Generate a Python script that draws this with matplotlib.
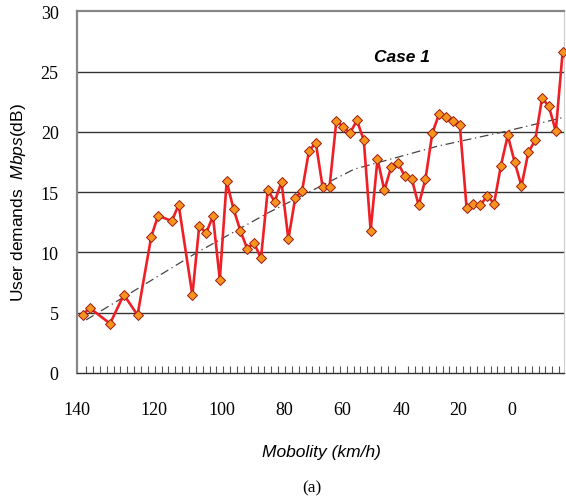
import numpy as np
from matplotlib import pyplot as plt

plt.rcParams["mathtext.fontset"] = "custom"
plt.rcParams["mathtext.it"] = "Liberation Sans:italic"
plt.rcParams["mathtext.rm"] = "Liberation Sans"

# slot index along the category axis (gaps = no sample)
slots = [0, 1, 4, 6, 8, 10, 11, 13, 14] + list(range(16, 71))
demand = [4.8, 5.4, 4.1, 6.5, 4.8, 11.3, 13.05, 12.6, 13.95,
          6.45, 12.2, 11.6, 13.0, 7.75, 15.9, 13.6, 11.8, 10.3, 10.8,
          9.5, 15.2, 14.2, 15.85, 11.1, 14.5, 15.1, 18.4, 19.1, 15.4,
          15.4, 20.9, 20.4, 19.9, 20.95, 19.3, 11.8, 17.75, 15.15, 17.1,
          17.4, 16.3, 16.1, 13.9, 16.1, 19.9, 21.5, 21.25, 20.9, 20.6,
          13.65, 14.0, 13.9, 14.7, 14.05, 17.2, 19.7, 17.5, 15.5, 18.3,
          19.3, 22.8, 22.1, 20.05, 26.6]
# trend line
trend_slots = [0.5, 9.2, 16.4, 27.1, 39.6, 51.7, 61.4, 70.2]
trend_vals = [4.4, 7.4, 9.9, 13.3, 16.9, 18.8, 20.0, 21.2]
mob_labels = ["140", "120", "100", "80", "60", "40", "20", "0"]
mob_label_pos = [-0.87, 10.4, 20.3, 29.4, 37.9, 46.5, 54.8, 62.6]
y_ticks = [0, 5, 10, 15, 20, 25, 30]

fig = plt.figure(figsize=(5.66, 5.02), dpi=100)
ax = fig.add_axes([76.7 / 566, 128 / 502, (564 - 76.7) / 566, (374 - 12.2) / 502])

ax.plot(trend_slots, trend_vals, color="#444444", lw=0.9,
        linestyle=(0, (7, 3, 1, 3)), zorder=2)

ax.plot(slots, demand, color="#EE2026", lw=1.9, marker="D", ms=5.6,
        mfc="#F7941D", mec="#9E1B12", mew=0.7, zorder=3, clip_on=False)

ax.set_xlim(-0.5, 70.2)
ax.set_ylim(0, 30)
ax.set_yticks(y_ticks)
ax.set_yticklabels([str(v) for v in y_ticks], family="Liberation Serif", fontsize=13)
ax.tick_params(axis="y", length=0, pad=13)

ax.set_xticks(mob_label_pos)
ax.set_xticklabels(mob_labels, family="Liberation Serif", fontsize=13)
ax.set_xticks(np.arange(0.5, 70, 1.0), minor=True)
ax.tick_params(axis="x", which="major", length=0, pad=20)
ax.tick_params(axis="x", which="minor", direction="in", length=5, width=0.8, color="#555555")

for v in y_ticks[1:-1]:
    ax.axhline(v, color="#333333", lw=1.0, zorder=1)

ax.spines["top"].set_color("#888888")
ax.spines["top"].set_linewidth(1.6)
ax.spines["left"].set_color("#888888")
ax.spines["left"].set_linewidth(1.6)
ax.spines["bottom"].set_color("#333333")
ax.spines["bottom"].set_linewidth(1.0)
ax.spines["right"].set_color("#cccccc")
ax.spines["right"].set_linewidth(0.8)

fig.text(19 / 566, 1 - 203 / 502, r"User demands  $\mathit{Mbps}$(dB)", rotation=90,
         ha="center", va="center", family="Liberation Sans", fontsize=12.5)
fig.text(321 / 566, 1 - 453 / 502, "Mobolity (km/h)", ha="center", va="center",
         family="Liberation Sans", style="italic", fontsize=12.5)
fig.text(312 / 566, 1 - 488 / 502, "(a)", ha="center", va="center",
         family="Liberation Serif", fontsize=12.5)
fig.text(402 / 566, 1 - 57 / 502, "Case 1", ha="center", va="center",
         family="Liberation Sans", style="italic", weight="bold", fontsize=12.5)

fig.savefig("out.png", dpi=100)
